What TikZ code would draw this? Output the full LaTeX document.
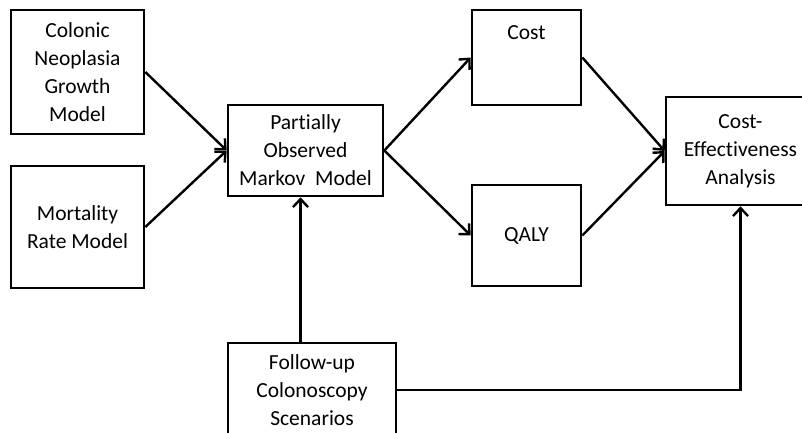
\documentclass[tikz,border=0pt]{standalone}
\usepackage{fontspec}
\setmainfont[Ligatures=NoCommon]{Carlito}
\usetikzlibrary{arrows.meta}

\begin{document}
\begin{tikzpicture}[x=1pt,y=-1pt,
  font=\fontsize{21.5}{28}\selectfont,
  block/.style={draw,line width=2.6pt,align=center,inner sep=0pt},
  arr/.style={line width=2.4pt,-{Straight Barb[length=8pt,width=15pt,line width=2.4pt]}}]
\fill[white] (0,0) rectangle (802,433);
\useasboundingbox (0,0) rectangle (802,433);
\clip (0,0) rectangle (802,433);

\node[block,minimum width=133pt,minimum height=124pt] (colonic) at (77.5,72) {Colonic\\Neoplasia\\Growth\\Model};
\node[block,minimum width=133pt,minimum height=122pt] (mortality) at (77.5,227) {Mortality\\Rate Model};
\node[block,minimum width=155pt,minimum height=91pt] (pomm) at (305.5,150.5) {Partially\\Observed\\Markov\ \ Model};
\node[block,minimum width=109pt,minimum height=95pt,label={[anchor=center,yshift=-24pt]north:Cost}] (cost) at (526.5,57.5) {};
\node[block,minimum width=109pt,minimum height=101pt] (qaly) at (526.5,235.5) {QALY};
\node[block,minimum width=149pt,minimum height=108pt] (cea) at (740.5,151) {Cost-\\Effectiveness\\Analysis};
\node[block,minimum width=168pt,minimum height=94pt] (followup) at (312,390) {Follow-up\\Colonoscopy\\Scenarios};

\foreach \n in {colonic,mortality} {
\draw[arr] (\n.east) -- (pomm.west);
}
\foreach \n in {cost,qaly} {
\draw[arr] (pomm.east) -- (\n.west);
\draw[arr] (\n.east) -- (cea.west);
}
\coordinate (stem) at ([xshift=-5pt]pomm.south);
\draw[arr] (followup.north -| stem) -- (stem);
\draw[arr] (followup.east) -| (cea.south);

\end{tikzpicture}
\end{document}
